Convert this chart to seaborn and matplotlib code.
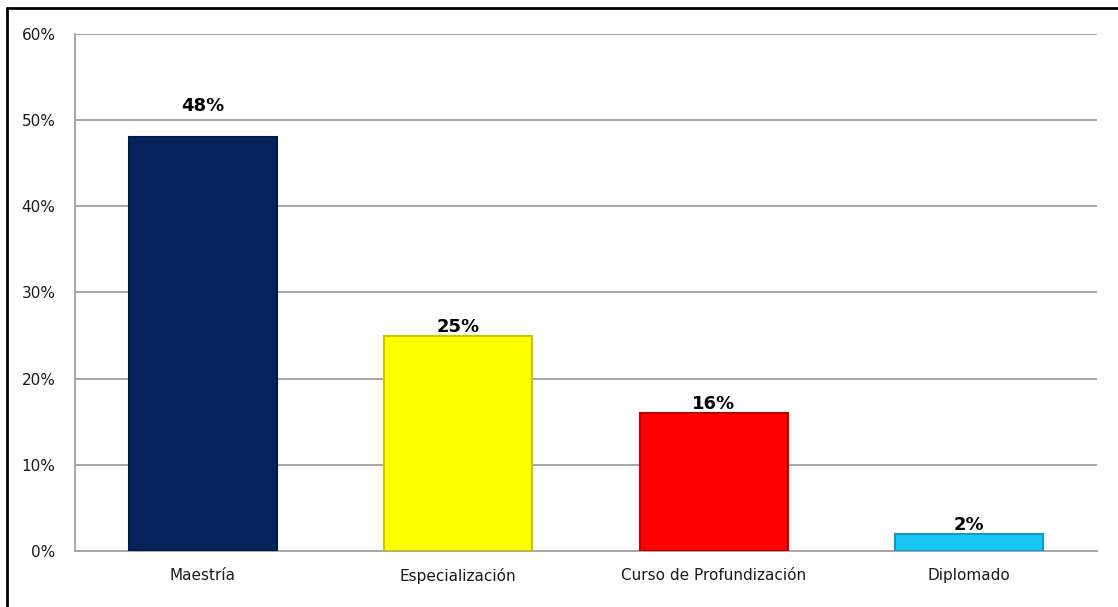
import matplotlib
matplotlib.use("Agg")
import matplotlib.pyplot as plt
from matplotlib.lines import Line2D
from matplotlib.ticker import PercentFormatter
import seaborn as sns
import pandas as pd

# Data
categories = ["Maestría", "Especialización", "Curso de Profundización", "Diplomado"]
percentages = [48, 25, 16, 2]
bar_colors = ["#05235F", "#FFFF00", "#FF0000", "#1CC6F2"]
edge_colors = ["#021A48", "#C8C800", "#C00000", "#0E9CC4"]

df = pd.DataFrame({"categoria": categories, "porcentaje": percentages})

sns.set_theme(style="white")
plt.rcParams["font.family"] = ["DejaVu Sans"]

fig = plt.figure(figsize=(11.18, 6.07), dpi=100)
ax = fig.add_axes([0.0671, 0.0923, 0.9141, 0.8517])

sns.barplot(data=df, x="categoria", y="porcentaje", hue="categoria",
            palette=bar_colors, width=0.58, legend=False, ax=ax,
            saturation=1, zorder=3)

for patch, ec in zip(ax.patches, edge_colors):
    patch.set_edgecolor(ec)
    patch.set_linewidth(1.5)

# Value labels above each bar
label_offsets = [16, 0, 0, 0]
for patch, val, off in zip(ax.patches, percentages, label_offsets):
    ax.annotate(f"{val}%", (patch.get_x() + patch.get_width() / 2, val),
                xytext=(0, off), textcoords="offset points",
                ha="center", va="bottom", fontsize=13, fontweight="bold",
                color="#000000", zorder=4)

ax.set_ylim(0, 60)
ax.set_yticks(range(0, 61, 10))
ax.yaxis.set_major_formatter(PercentFormatter(decimals=0))
ax.set_xlim(-0.5, len(categories) - 0.5)
ax.set_xlabel("")
ax.set_ylabel("")

ax.grid(axis="y", color="#A6A6A6", linewidth=1.4, zorder=0)
ax.set_axisbelow(True)
for side in ["top", "right"]:
    ax.spines[side].set_visible(False)
for side in ["left", "bottom"]:
    ax.spines[side].set_color("#A6A6A6")
    ax.spines[side].set_linewidth(1.4)

ax.tick_params(axis="y", length=0, pad=14, labelsize=11, labelcolor="#1A1A1A")
ax.tick_params(axis="x", length=0, pad=12, labelsize=11, labelcolor="#1A1A1A")

# Outer chart frame (top and left edges)
fig.add_artist(Line2D([0.0063, 1.0], [0.9868, 0.9868], color="black",
                      linewidth=2, transform=fig.transFigure))
fig.add_artist(Line2D([0.0063, 0.0063], [0.0, 0.9868], color="black",
                      linewidth=2, transform=fig.transFigure))

fig.savefig("out.png", dpi=100, facecolor="white")
